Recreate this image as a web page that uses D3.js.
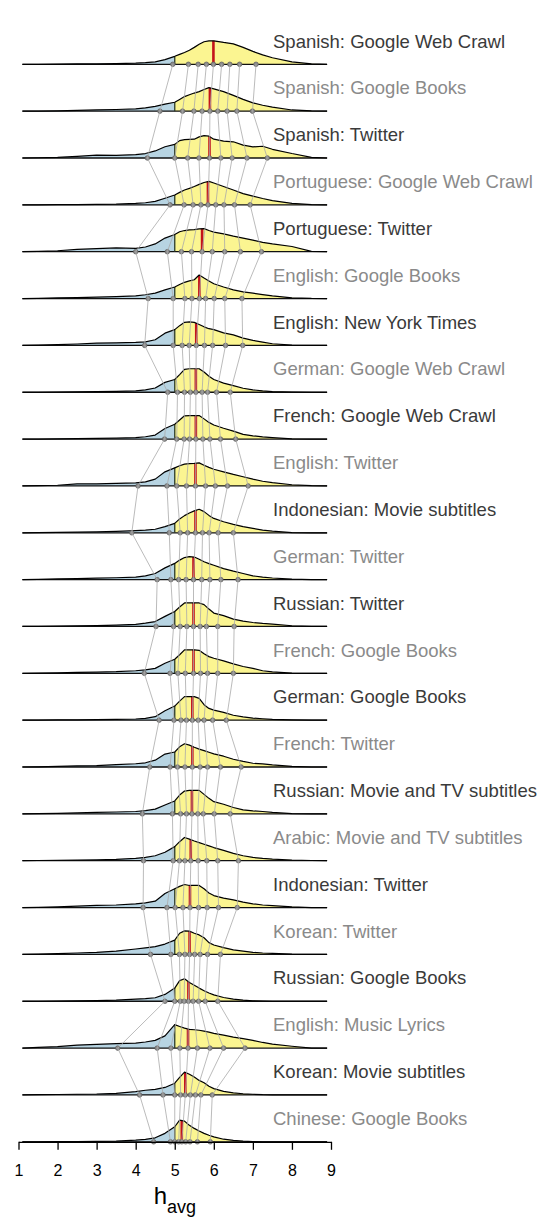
<!DOCTYPE html>
<html>
<head>
<meta charset="utf-8">
<script src="https://cdn.jsdelivr.net/npm/d3@7"></script>
<style>
  body { margin: 0; background: #fff; }
  svg { display: block; font-family: "Liberation Sans", Arial, Helvetica, sans-serif; }
</style>
</head>
<body>
<div id="chart"></div>
<script>
// Corpus names, top to bottom (sorted by median h_avg)
const labels = [
  "Spanish: Google Web Crawl", "Spanish: Google Books", "Spanish: Twitter",
  "Portuguese: Google Web Crawl", "Portuguese: Twitter", "English: Google Books",
  "English: New York Times", "German: Google Web Crawl", "French: Google Web Crawl",
  "English: Twitter", "Indonesian: Movie subtitles", "German: Twitter",
  "Russian: Twitter", "French: Google Books", "German: Google Books",
  "French: Twitter", "Russian: Movie and TV subtitles", "Arabic: Movie and TV subtitles",
  "Indonesian: Twitter", "Korean: Twitter", "Russian: Google Books",
  "English: Music Lyrics", "Korean: Movie subtitles", "Chinese: Google Books"
];

// h values where the distributions were read
const hGrid = [1.1, 1.5, 2, 2.5, 3, 3.5, 4, 4.25, 4.5, 4.75, 5, 5.125, 5.25, 5.375,
  5.5, 5.625, 5.75, 5.875, 6, 6.25, 6.5, 6.75, 7, 7.25, 7.5, 8, 8.5, 8.9];

// relative density (peak ~ 1) for each corpus, on hGrid
const densities = [
  [0, 0, 0.01, 0.02, 0.02, 0.03, 0.05, 0.07, 0.1, 0.2, 0.34, 0.42, 0.5, 0.6, 0.72, 0.85, 0.96, 1.0, 1.0, 0.93, 0.87, 0.72, 0.55, 0.4, 0.28, 0.1, 0.02, 0],
  [0, 0.005, 0.01, 0.03, 0.05, 0.07, 0.1, 0.14, 0.2, 0.3, 0.38, 0.5, 0.62, 0.7, 0.77, 0.83, 0.92, 1.0, 0.95, 0.83, 0.67, 0.5, 0.35, 0.25, 0.17, 0.05, 0.01, 0],
  [0, 0.01, 0.03, 0.07, 0.12, 0.11, 0.14, 0.19, 0.3, 0.48, 0.58, 0.74, 0.78, 0.79, 0.8, 0.9, 0.95, 0.93, 0.8, 0.72, 0.69, 0.55, 0.47, 0.5, 0.37, 0.19, 0.03, 0],
  [0, 0, 0.01, 0.01, 0.02, 0.03, 0.06, 0.09, 0.15, 0.28, 0.42, 0.53, 0.63, 0.7, 0.78, 0.87, 0.95, 1.0, 0.93, 0.78, 0.63, 0.48, 0.37, 0.27, 0.18, 0.06, 0.01, 0],
  [0, 0.01, 0.04, 0.1, 0.13, 0.16, 0.14, 0.2, 0.33, 0.58, 0.73, 0.85, 0.9, 0.93, 0.94, 0.97, 0.98, 0.9, 0.83, 0.76, 0.66, 0.58, 0.49, 0.4, 0.33, 0.22, 0.01, 0],
  [0, 0.01, 0.03, 0.04, 0.06, 0.08, 0.11, 0.16, 0.23, 0.37, 0.49, 0.6, 0.69, 0.75, 0.8, 1.0, 0.87, 0.75, 0.63, 0.49, 0.37, 0.28, 0.23, 0.17, 0.11, 0.03, 0.005, 0],
  [0, 0.01, 0.03, 0.06, 0.1, 0.11, 0.13, 0.15, 0.24, 0.52, 0.67, 0.84, 0.98, 1.0, 0.98, 0.89, 0.79, 0.71, 0.67, 0.53, 0.45, 0.31, 0.21, 0.14, 0.07, 0.01, 0, 0],
  [0, 0, 0.01, 0.02, 0.03, 0.04, 0.06, 0.1, 0.18, 0.42, 0.54, 0.75, 0.97, 1.0, 1.0, 1.0, 0.86, 0.68, 0.54, 0.39, 0.28, 0.17, 0.1, 0.06, 0.03, 0.01, 0, 0],
  [0, 0, 0.01, 0.02, 0.03, 0.04, 0.06, 0.1, 0.17, 0.45, 0.63, 0.81, 0.99, 1.0, 1.0, 1.0, 0.86, 0.71, 0.6, 0.46, 0.34, 0.2, 0.14, 0.09, 0.06, 0.01, 0, 0],
  [0, 0.01, 0.03, 0.09, 0.09, 0.11, 0.13, 0.17, 0.29, 0.6, 0.77, 0.86, 0.93, 0.95, 0.96, 0.98, 0.88, 0.79, 0.71, 0.6, 0.49, 0.39, 0.29, 0.2, 0.14, 0.05, 0.01, 0],
  [0, 0.01, 0.02, 0.03, 0.04, 0.06, 0.09, 0.11, 0.15, 0.26, 0.4, 0.59, 0.73, 0.84, 0.93, 1.0, 0.9, 0.74, 0.61, 0.47, 0.36, 0.26, 0.19, 0.11, 0.07, 0.01, 0, 0],
  [0, 0.01, 0.03, 0.04, 0.06, 0.08, 0.11, 0.16, 0.26, 0.5, 0.69, 0.83, 0.94, 0.98, 0.96, 0.87, 0.76, 0.68, 0.61, 0.47, 0.36, 0.26, 0.16, 0.11, 0.07, 0.02, 0, 0],
  [0, 0.005, 0.02, 0.03, 0.04, 0.06, 0.09, 0.14, 0.21, 0.43, 0.64, 0.83, 1.0, 1.0, 1.0, 1.0, 0.93, 0.74, 0.57, 0.46, 0.31, 0.23, 0.17, 0.13, 0.1, 0.03, 0, 0],
  [0, 0.01, 0.02, 0.04, 0.05, 0.07, 0.11, 0.15, 0.21, 0.43, 0.6, 0.79, 1.0, 1.0, 1.0, 0.98, 0.83, 0.71, 0.64, 0.53, 0.4, 0.29, 0.21, 0.11, 0.06, 0.01, 0, 0],
  [0, 0, 0.01, 0.01, 0.02, 0.03, 0.05, 0.08, 0.15, 0.4, 0.6, 0.81, 1.0, 1.0, 1.0, 0.93, 0.66, 0.5, 0.43, 0.33, 0.21, 0.14, 0.09, 0.06, 0.03, 0.01, 0, 0],
  [0, 0.01, 0.03, 0.05, 0.06, 0.1, 0.14, 0.18, 0.29, 0.55, 0.64, 0.86, 0.99, 0.93, 0.84, 0.76, 0.7, 0.63, 0.56, 0.46, 0.33, 0.24, 0.16, 0.13, 0.09, 0.03, 0, 0],
  [0, 0.01, 0.02, 0.04, 0.06, 0.08, 0.1, 0.14, 0.2, 0.38, 0.55, 0.8, 0.97, 1.0, 1.0, 1.0, 0.83, 0.66, 0.52, 0.41, 0.27, 0.17, 0.13, 0.1, 0.06, 0.01, 0, 0],
  [0, 0.01, 0.02, 0.03, 0.04, 0.06, 0.1, 0.14, 0.21, 0.36, 0.6, 0.81, 0.99, 0.92, 0.84, 0.77, 0.7, 0.63, 0.56, 0.44, 0.31, 0.21, 0.14, 0.1, 0.07, 0.03, 0.01, 0],
  [0, 0.01, 0.03, 0.06, 0.09, 0.11, 0.16, 0.2, 0.27, 0.6, 0.8, 0.9, 0.98, 0.94, 0.94, 0.94, 0.8, 0.62, 0.51, 0.4, 0.33, 0.23, 0.16, 0.11, 0.08, 0.03, 0, 0],
  [0, 0.01, 0.03, 0.06, 0.09, 0.14, 0.23, 0.28, 0.33, 0.44, 0.61, 0.9, 1.0, 0.99, 0.9, 0.83, 0.71, 0.5, 0.4, 0.29, 0.19, 0.14, 0.09, 0.06, 0.04, 0.01, 0, 0],
  [0, 0, 0.01, 0.02, 0.03, 0.05, 0.09, 0.11, 0.15, 0.29, 0.56, 0.88, 0.96, 0.8, 0.68, 0.56, 0.45, 0.35, 0.27, 0.16, 0.09, 0.05, 0.02, 0.01, 0, 0, 0, 0],
  [0, 0.03, 0.06, 0.13, 0.16, 0.19, 0.21, 0.26, 0.33, 0.52, 1.0, 0.92, 0.85, 0.8, 0.78, 0.76, 0.72, 0.68, 0.63, 0.55, 0.47, 0.4, 0.33, 0.24, 0.17, 0.08, 0, 0],
  [0, 0.01, 0.02, 0.03, 0.04, 0.07, 0.14, 0.2, 0.24, 0.32, 0.5, 0.75, 0.97, 0.88, 0.76, 0.62, 0.52, 0.37, 0.27, 0.15, 0.09, 0.05, 0.03, 0.01, 0, 0, 0, 0],
  [0, 0, 0.01, 0.01, 0.02, 0.03, 0.07, 0.1, 0.17, 0.36, 0.64, 0.92, 0.88, 0.7, 0.57, 0.46, 0.36, 0.28, 0.21, 0.11, 0.06, 0.03, 0.01, 0, 0, 0, 0, 0]
];

// 10th..90th percentiles of h_avg for each corpus (5th entry = median, red bar)
const deciles = [
  [4.95, 5.35, 5.6, 5.81, 5.99, 6.2, 6.41, 6.66, 7.08],
  [4.62, 5.2, 5.49, 5.7, 5.9, 6.1, 6.34, 6.59, 6.99],
  [4.3, 5.0, 5.33, 5.62, 5.89, 6.18, 6.47, 6.85, 7.37],
  [4.88, 5.24, 5.47, 5.67, 5.85, 6.05, 6.26, 6.53, 6.93],
  [4.0, 4.81, 5.17, 5.43, 5.7, 5.96, 6.28, 6.68, 7.22],
  [4.32, 4.96, 5.26, 5.44, 5.63, 5.79, 6.01, 6.28, 6.72],
  [4.23, 4.96, 5.19, 5.37, 5.55, 5.76, 5.97, 6.3, 6.74],
  [4.82, 5.07, 5.25, 5.4, 5.54, 5.7, 5.84, 6.07, 6.42],
  [4.74, 5.05, 5.24, 5.38, 5.54, 5.72, 5.9, 6.17, 6.56],
  [4.06, 4.8, 5.05, 5.3, 5.53, 5.79, 6.04, 6.35, 6.88],
  [3.9, 4.86, 5.14, 5.33, 5.53, 5.71, 5.88, 6.11, 6.5],
  [4.55, 4.9, 5.1, 5.29, 5.48, 5.69, 5.9, 6.18, 6.62],
  [4.52, 4.97, 5.14, 5.31, 5.48, 5.65, 5.81, 6.1, 6.52],
  [4.22, 4.88, 5.08, 5.27, 5.48, 5.66, 5.84, 6.1, 6.5],
  [4.6, 4.98, 5.16, 5.3, 5.45, 5.6, 5.75, 5.97, 6.32],
  [4.36, 4.88, 5.07, 5.26, 5.45, 5.65, 5.84, 6.17, 6.7],
  [4.17, 4.94, 5.15, 5.3, 5.44, 5.59, 5.73, 6.01, 6.42],
  [4.2, 4.96, 5.12, 5.26, 5.41, 5.6, 5.82, 6.1, 6.63],
  [4.19, 4.8, 5.01, 5.21, 5.39, 5.61, 5.83, 6.12, 6.6],
  [4.38, 4.9, 5.12, 5.26, 5.38, 5.51, 5.65, 5.84, 6.17],
  [4.75, 5.0, 5.14, 5.24, 5.35, 5.47, 5.61, 5.78, 6.1],
  [3.54, 4.55, 4.9, 5.13, 5.34, 5.58, 5.9, 6.25, 6.8],
  [4.1, 4.7, 5.0, 5.15, 5.27, 5.4, 5.53, 5.67, 5.96],
  [4.46, 4.89, 5.0, 5.1, 5.18, 5.28, 5.39, 5.58, 5.91]
];

const xTicks = [1, 2, 3, 4, 5, 6, 7, 8, 9];
const neutral = 5;

const width = 550, height = 1225;

const svg = d3.select("#chart").append("svg")
  .attr("width", width)
  .attr("height", height);

// scales
const x = d3.scaleLinear().domain([1, 9]).range([18.5, 331]);
const y = d3.scalePoint().domain(labels).range([64.3, 1141.8]);
const dens = d3.scaleLinear().domain([0, 1]).range([0, 23.5]);

// density value at any h (straight line between read points)
function densAt(row, v) {
  const i = d3.bisectRight(hGrid, v);
  if (i <= 0) return densities[row][0];
  if (i >= hGrid.length) return densities[row][hGrid.length - 1];
  const t = (v - hGrid[i - 1]) / (hGrid[i] - hGrid[i - 1]);
  return densities[row][i - 1] + t * (densities[row][i] - densities[row][i - 1]);
}

// clip areas left / right of the neutral point
const defs = svg.append("defs");
defs.append("clipPath").attr("id", "clip-low").append("rect")
  .attr("x", 0).attr("y", -height).attr("width", x(neutral)).attr("height", 2 * height);
defs.append("clipPath").attr("id", "clip-high").append("rect")
  .attr("x", x(neutral)).attr("y", -height).attr("width", width).attr("height", 2 * height);

const area = d3.area()
  .x((d, i) => x(hGrid[i]))
  .y0(0)
  .y1(d => -dens(d));

const line = d3.line()
  .x((d, i) => x(hGrid[i]))
  .y(d => -dens(d));

const rows = svg.selectAll(".row")
  .data(labels)
  .enter()
  .append("g")
  .attr("class", "row")
  .attr("transform", d => `translate(0,${y(d)})`);

// fills
rows.append("path")
  .attr("d", (d, i) => area(densities[i]))
  .attr("fill", "#b7d4e2")
  .attr("clip-path", "url(#clip-low)");

rows.append("path")
  .attr("d", (d, i) => area(densities[i]))
  .attr("fill", "#fbf591")
  .attr("clip-path", "url(#clip-high)");

// grey lines joining the same percentile in neighbouring rows
const links = [];
for (let r = 0; r < labels.length - 1; r++) {
  for (let k = 0; k < 9; k++) {
    links.push({ a: deciles[r][k], b: deciles[r + 1][k], ya: y(labels[r]), yb: y(labels[r + 1]) });
  }
}
svg.append("g")
  .selectAll("line")
  .data(links)
  .enter()
  .append("line")
  .attr("x1", d => x(d.a))
  .attr("y1", d => d.ya)
  .attr("x2", d => x(d.b))
  .attr("y2", d => d.yb)
  .attr("stroke", "#aaaaaa")
  .attr("stroke-width", 0.8);

// baseline
rows.append("line")
  .attr("x1", x(hGrid[0]))
  .attr("x2", x(hGrid[hGrid.length - 1]))
  .attr("y1", 0)
  .attr("y2", 0)
  .attr("stroke", "#111")
  .attr("stroke-width", 1.3);

// neutral mark at h = 5
rows.append("line")
  .attr("x1", x(neutral))
  .attr("x2", x(neutral))
  .attr("y1", 0)
  .attr("y2", (d, i) => -dens(densAt(i, neutral)))
  .attr("stroke", "#2b3a2b")
  .attr("stroke-width", 1.3);

// median
rows.append("line")
  .attr("x1", (d, i) => x(deciles[i][4]))
  .attr("x2", (d, i) => x(deciles[i][4]))
  .attr("y1", 0)
  .attr("y2", (d, i) => -dens(densAt(i, deciles[i][4])))
  .attr("stroke", "#c4121a")
  .attr("stroke-width", 2.6);

// outline
rows.append("path")
  .attr("d", (d, i) => line(densities[i]))
  .attr("fill", "none")
  .attr("stroke", "#000")
  .attr("stroke-width", 1.2)
  .attr("stroke-linejoin", "round");

// percentile dots
rows.selectAll("circle")
  .data((d, i) => deciles[i])
  .enter()
  .append("circle")
  .attr("cx", d => x(d))
  .attr("cy", 0)
  .attr("r", 2.3)
  .attr("fill", "#8e8e8e")
  .attr("stroke", "#5a5a5a")
  .attr("stroke-width", 0.7);

// labels
rows.append("text")
  .attr("x", 273)
  .attr("y", -16.8)
  .style("font-size", "18.5px")
  .attr("fill", (d, i) => i % 2 === 0 ? "#3a3a3a" : "#8a8a8a")
  .text(d => d);

// x axis
const axisY = y(labels[labels.length - 1]);
const axis = svg.append("g")
  .attr("transform", `translate(0,${axisY})`)
  .call(d3.axisBottom(x).tickValues(xTicks).tickSize(8).tickSizeOuter(0).tickPadding(15).tickFormat(d3.format("d")));
axis.select(".domain").attr("stroke", "#000").attr("stroke-width", 1.3);
axis.selectAll(".tick line").attr("stroke", "#000").attr("stroke-width", 1.3);
axis.selectAll(".tick text")
  .attr("fill", "#000")
  .style("font-size", "16px")
  .style("font-family", "'Liberation Sans', Arial, sans-serif");

// axis title h_avg
const title = svg.append("text")
  .attr("x", x(neutral) - 21)
  .attr("y", 1204)
  .attr("fill", "#000");
title.append("tspan").style("font-size", "24px").text("h");
title.append("tspan").style("font-size", "18px").attr("dy", 9).text("avg");
</script>
</body>
</html>
